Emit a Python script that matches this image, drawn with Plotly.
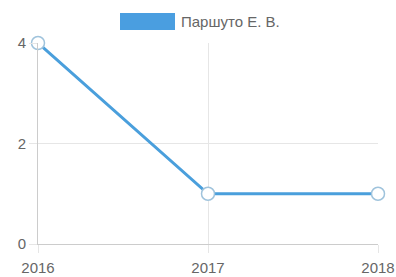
import plotly.graph_objects as go

years = [2016, 2017, 2018]
values = [4, 1, 1]
series_name = "Паршуто Е. В."
y_ticks = [0, 2, 4]

line_color = "#4a9fdc"
grid_color = "#e6e6e6"
text_color = "#666666"

W, H = 396, 277
L, T, PW, PH = 38, 43, 340, 201

fig = go.Figure()
fig.add_trace(go.Scatter(
    x=years, y=values, mode="lines+markers", name=series_name,
    line=dict(color=line_color, width=3),
    marker=dict(size=13, color="white", line=dict(color="#9fc3dc", width=1.5)),
    cliponaxis=False, showlegend=False, hoverinfo="skip",
))

fig.add_shape(type="rect", xref="paper", yref="paper",
              x0=(120-L)/PW, x1=(175-L)/PW, y0=1+(T-30)/PH, y1=1+(T-13)/PH,
              fillcolor="#4a9ee0", line=dict(width=0))
fig.add_annotation(xref="paper", yref="paper", x=(179-L)/PW, y=1+(T-21.5)/PH,
                   text=series_name, showarrow=False, xanchor="left", yanchor="middle",
                   font=dict(size=15, color=text_color))

fig.update_layout(
    width=W, height=H,
    margin=dict(l=L, r=W-L-PW, t=T, b=H-T-PH),
    paper_bgcolor="white", plot_bgcolor="white",
    font=dict(family="Liberation Sans, Arial, sans-serif", size=15, color=text_color),
    xaxis=dict(range=[2016, 2018], tickvals=years, ticktext=[str(y) for y in years],
               automargin=False, ticklabelstandoff=2,
               showgrid=True, gridcolor=grid_color, zeroline=False,
               showline=True, linecolor="#cccccc", linewidth=1,
               ticks="outside", ticklen=8, tickcolor=grid_color),
    yaxis=dict(range=[0, 4], tickvals=y_ticks, automargin=False,
               showgrid=True, gridcolor=grid_color, zeroline=False,
               showline=True, linecolor="#cccccc", linewidth=1,
               ticks="outside", ticklen=8, tickcolor=grid_color),
)

fig.write_html("out.html", config={"displayModeBar": False, "staticPlot": True},
               post_script="document.body.style.margin='0';document.body.style.overflow='hidden';")
